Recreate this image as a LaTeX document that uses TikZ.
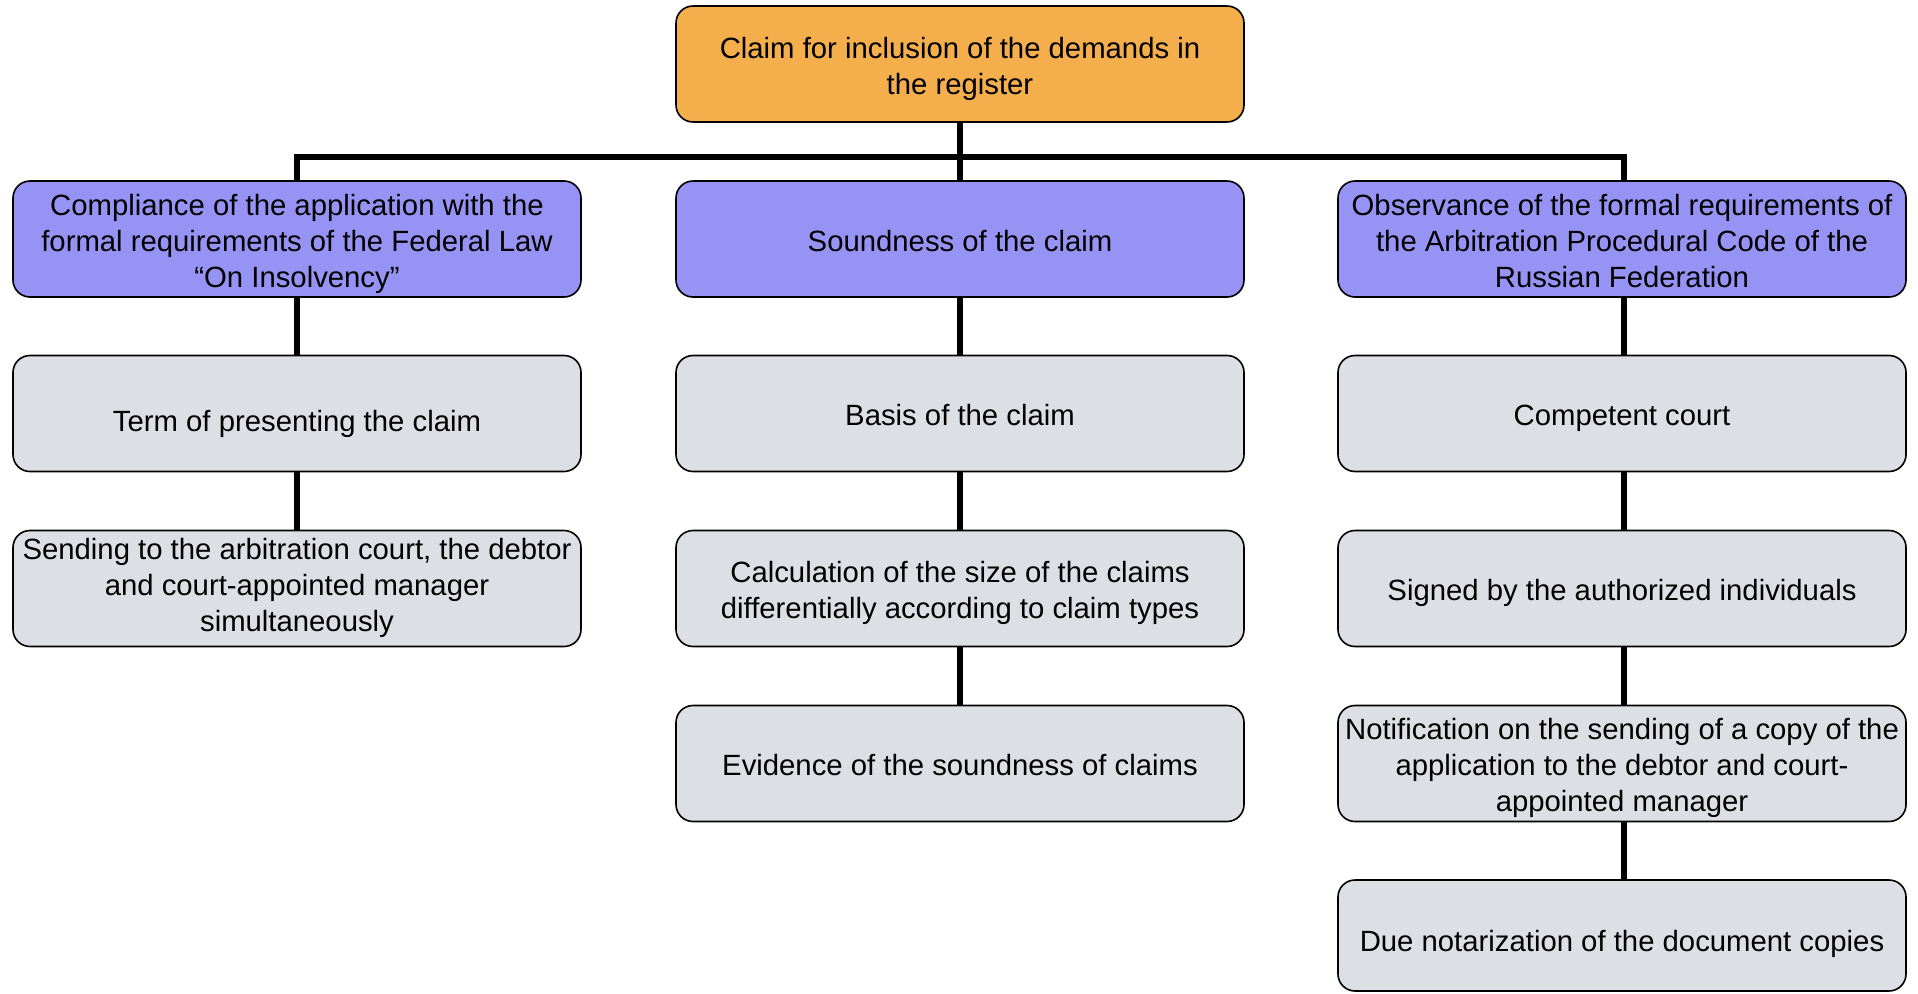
\documentclass[tikz,border=0pt]{standalone}
\usepackage{fontspec}
\setmainfont{Liberation Sans}
\definecolor{topc}{RGB}{244,175,76}
\definecolor{bluec}{RGB}{151,147,245}
\definecolor{grayc}{RGB}{220,224,228}
\newcommand\boxtext[2][0pt]{\raisebox{\dimexpr-5pt-#1\relax}[\height][\depth]{\begin{tabular}{@{}c@{}}#2\end{tabular}}}
\tikzset{
  box/.style={draw=black, line width=1.6pt, rounded corners=17pt, minimum width=568pt, minimum height=116pt,
    inner sep=0pt, font=\fontsize{29.3}{36}\selectfont},
  topbox/.style={box, fill=topc},
  bluebox/.style={box, fill=bluec},
  graybox/.style={box, fill=grayc},
  conn/.style={draw=black, line width=5.5pt}
}
\begin{document}
\begin{tikzpicture}[x=1pt,y=1pt]
\useasboundingbox (0,0) rectangle (1918,-993);
\coordinate (barL) at (297,-157);
\coordinate (barR) at (1624,-157);
\node[topbox] (top) at (960,-64) {\boxtext{Claim for inclusion of the demands in\\the register}};
\node[bluebox] (l1) at (297,-239) {\boxtext{Compliance of the application with the\\formal requirements of the Federal Law\\“On Insolvency”}};
\node[bluebox] (m1) at (960,-239) {\boxtext{Soundness of the claim}};
\node[bluebox] (r1) at (1622,-239) {\boxtext{Observance of the formal requirements of\\the Arbitration Procedural Code of the\\Russian Federation}};
\node[graybox] (l2) at (297,-413.5) {\boxtext[6pt]{Term of presenting the claim}};
\node[graybox] (l3) at (297,-588.5) {\boxtext[-5pt]{Sending to the arbitration court, the debtor\\and court-appointed manager\\simultaneously}};
\node[graybox] (m2) at (960,-413.5) {\boxtext{Basis of the claim}};
\node[graybox] (m3) at (960,-588.5) {\boxtext{Calculation of the size of the claims\\differentially according to claim types}};
\node[graybox] (m4) at (960,-763.5) {\boxtext{Evidence of the soundness of claims}};
\node[graybox] (r2) at (1622,-413.5) {\boxtext{Competent court}};
\node[graybox] (r3) at (1622,-588.5) {\boxtext{Signed by the authorized individuals}};
\node[graybox] (r4) at (1622,-763.5) {\boxtext{Notification on the sending of a copy of the\\application to the debtor and court-\\appointed manager}};
\node[graybox, minimum height=111pt] (r5) at (1622,-935.5) {\boxtext[4pt]{Due notarization of the document copies}};
\draw[conn] (top.south) -- (top.south |- barL);
\draw[conn, line join=miter] (l1.north) -- (barL) -- (barR) -- (r1.north -| barR);
\draw[conn] (m1.north) -- (m1.north |- barL);
\draw[conn] (l1.south) -- (l2.north);
\draw[conn] (l2.south) -- (l3.north);
\draw[conn] (m1.south) -- (m2.north);
\draw[conn] (m2.south) -- (m3.north);
\draw[conn] (m3.south) -- (m4.north);
\draw[conn] (r1.south -| barR) -- (r2.north -| barR);
\draw[conn] (r2.south -| barR) -- (r3.north -| barR);
\draw[conn] (r3.south -| barR) -- (r4.north -| barR);
\draw[conn] (r4.south -| barR) -- (r5.north -| barR);
\end{tikzpicture}
\end{document}
